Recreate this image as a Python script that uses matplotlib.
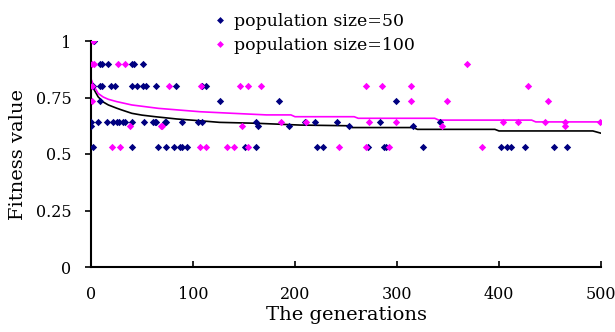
import matplotlib
matplotlib.use("Agg")
import matplotlib.pyplot as plt
from matplotlib.lines import Line2D

plt.rcParams['font.family'] = ['DejaVu Serif']

# population size = 50 (navy points)
gen_50 = [3,
          9, 11, 17, 40, 42, 51,
          2, 9, 11, 20, 24, 40, 45, 51, 54, 64, 83, 109, 113,
          9, 126, 184, 299,
          0, 7, 16, 22, 25, 27, 31, 33, 40, 52, 61, 63, 64, 73, 74, 89, 105, 109,
          162, 210, 220, 241, 283, 342,
          0, 164, 194, 253, 316,
          2, 40, 66, 74, 81, 87, 89, 94, 151, 162, 222, 227, 272, 287, 289, 325,
          402, 408, 412, 425, 454, 467]
fit_50 = [1.0,
          0.9, 0.9, 0.9, 0.9, 0.9, 0.9,
          0.8, 0.8, 0.8, 0.8, 0.8, 0.8, 0.8, 0.8, 0.8, 0.8, 0.8, 0.8, 0.8,
          0.735, 0.735, 0.735, 0.735,
          0.64, 0.64, 0.64, 0.64, 0.64, 0.64, 0.64, 0.64, 0.64, 0.64, 0.64, 0.64, 0.64, 0.64, 0.64, 0.64, 0.64, 0.64,
          0.64, 0.64, 0.64, 0.64, 0.64, 0.64,
          0.626, 0.626, 0.626, 0.626, 0.626,
          0.53, 0.53, 0.53, 0.53, 0.53, 0.53, 0.53, 0.53, 0.53, 0.53, 0.53, 0.53, 0.53, 0.53, 0.53, 0.53,
          0.53, 0.53, 0.53, 0.53, 0.53, 0.53]

# population size = 100 (magenta points)
gen_100 = [2,
           1, 3, 26, 33, 369,
           1, 76, 108, 146, 154, 167, 270, 285, 314, 428,
           1, 314, 349, 448,
           186, 211, 273, 299, 404, 419, 445, 465, 499,
           38, 69, 70, 148, 344, 465,
           21, 28, 107, 113, 133, 140, 154, 243, 270, 292, 383]
fit_100 = [1.0,
           0.9, 0.9, 0.9, 0.9, 0.9,
           0.8, 0.8, 0.8, 0.8, 0.8, 0.8, 0.8, 0.8, 0.8, 0.8,
           0.735, 0.735, 0.735, 0.735,
           0.64, 0.64, 0.64, 0.64, 0.64, 0.64, 0.64, 0.64, 0.64,
           0.626, 0.626, 0.626, 0.626, 0.622, 0.622,
           0.53, 0.53, 0.53, 0.53, 0.53, 0.53, 0.53, 0.53, 0.53, 0.53, 0.53]

# best-so-far curves
curve_gen_50 = [0, 3, 7, 12, 17, 25, 30, 40, 50, 63, 84, 107, 126, 162, 205,
                252, 256, 316, 320, 396, 400, 492, 500]
curve_fit_50 = [0.82, 0.785, 0.753, 0.73, 0.717, 0.703, 0.695, 0.68, 0.672, 0.665, 0.655,
                0.647, 0.64, 0.636, 0.628, 0.625, 0.617, 0.617, 0.609, 0.609, 0.602,
                0.602, 0.592]
curve_gen_100 = [0, 3, 7, 12, 17, 25, 40, 66, 107, 139, 172, 196, 200, 258, 262,
                 337, 341, 432, 436, 500]
curve_fit_100 = [0.832, 0.8, 0.768, 0.752, 0.742, 0.732, 0.717, 0.702, 0.687, 0.68,
                 0.673, 0.673, 0.665, 0.665, 0.658, 0.658, 0.65, 0.65, 0.642, 0.642]

navy = '#000080'
pink = '#FF00FF'

fig = plt.figure(figsize=(6.15, 3.32), dpi=100)
ax = fig.add_axes([91 / 615, 1 - 267 / 332, 510 / 615, 226 / 332])

ax.plot(curve_gen_50, curve_fit_50, color='black', lw=1.2, zorder=2)
ax.plot(curve_gen_100, curve_fit_100, color=pink, lw=1.2, zorder=2)
ax.scatter(gen_50, fit_50, s=14, marker='D', color=navy, lw=0, zorder=3)
ax.scatter(gen_100, fit_100, s=14, marker='D', color=pink, lw=0, zorder=3)

ax.set_xlim(0, 500)
ax.set_ylim(0, 1)
ax.set_xticks([0, 100, 200, 300, 400, 500])
ax.set_yticks([0, 0.25, 0.5, 0.75, 1])
ax.set_yticklabels(['0', '0.25', '0.5', '0.75', '1'])
for s in ['top', 'right']:
    ax.spines[s].set_visible(False)
for s in ['left', 'bottom']:
    ax.spines[s].set_linewidth(1.5)
ax.tick_params(axis='x', direction='in', length=4, width=1.2, pad=14, labelsize=11.5)
ax.tick_params(axis='y', direction='out', length=4, width=1.2, pad=10, labelsize=11.5)
ax.set_xlabel('The generations', fontsize=14, labelpad=2)
ax.set_ylabel('Fitness value', fontsize=14, labelpad=6)

handles = [Line2D([], [], ls='none', marker='D', ms=3.5, color=navy, mew=0),
           Line2D([], [], ls='none', marker='D', ms=3.5, color=pink, mew=0)]
fig.legend(handles, ['population size=50', 'population size=100'],
           loc='upper left', bbox_to_anchor=(203 / 615, 1 - 4 / 332),
           frameon=False, fontsize=12.5, handlelength=1.0, handletextpad=0.3,
           labelspacing=0.45, borderpad=0)

fig.savefig('out.png', dpi=100)
